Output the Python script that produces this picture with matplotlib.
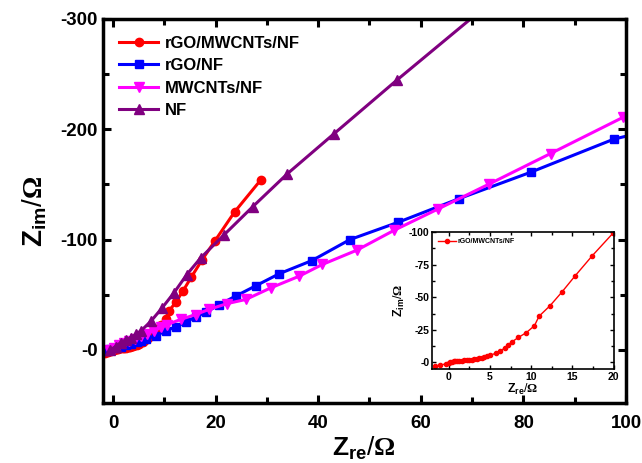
# Nyquist plot: rGO/MWCNTs/NF, rGO/NF, MWCNTs/NF, NF with inset
import matplotlib
matplotlib.use('Agg')
import matplotlib.pyplot as plt
from matplotlib.ticker import MultipleLocator

plt.rcParams['font.family'] = ['Liberation Sans', 'DejaVu Sans']
plt.rcParams['font.weight'] = 'bold'
plt.rcParams['mathtext.fontset'] = 'custom'
plt.rcParams['mathtext.bf'] = 'Liberation Sans:bold'
plt.rcParams['mathtext.rm'] = 'Liberation Serif'

# rGO/MWCNTs/NF
x_rgo_mw = [-1.6, -1.0, -0.3, 0.0, 0.2, 0.4, 0.6, 0.8, 1.0, 1.3, 1.6, 1.9, 2.2, 2.5,
            2.8, 3.1, 3.4, 3.7, 4.0, 4.3, 4.6, 5.05, 5.8, 6.2, 6.8, 7.2, 7.7, 8.45,
            9.4, 10.4, 10.95, 12.3, 13.7, 15.3, 17.4, 19.9, 23.7, 28.8]
y_rgo_mw = [2.8, 2.0, 1.0, 0.2, -0.3, -0.6, -0.8, -1.0, -1.1, -1.3, -1.4, -1.6, -1.8, -2.0,
            -2.2, -2.5, -2.8, -3.1, -3.5, -4.0, -4.6, -5.6, -7.2, -8.7, -11.0, -13.6, -15.9, -19.2,
            -22.8, -28.2, -35.4, -43.6, -53.8, -66.2, -81.8, -99.0, -125.0, -154.0]

# rGO/NF
x_rgo = [-1.4, -0.5, 0.5, 1.5, 2.6, 3.6, 4.6, 5.5, 6.4, 8.3, 10.3, 12.2, 14.2, 16.1,
         18.1, 20.7, 23.9, 27.8, 32.4, 38.8, 46.2, 55.6, 67.4, 81.4, 97.6, 110.0]
y_rgo = [1.0, -0.5, -1.5, -2.8, -4.2, -5.5, -7.0, -8.3, -9.5, -13.0, -17.0, -21.0, -25.0, -30.0,
         -34.0, -41.0, -48.7, -58.0, -69.0, -81.0, -100.0, -115.7, -137.0, -161.0, -191.0, -205.0]

# MWCNTs/NF
x_mw = [-0.8, 0.2, 1.2, 2.2, 3.2, 4.3, 5.4, 6.6, 8.0, 9.3, 10.6, 13.2, 16.1, 18.7,
        22.3, 25.9, 30.8, 36.3, 40.8, 47.5, 54.8, 63.4, 73.4, 85.3, 99.5, 110.0]
y_mw = [0.0, -2.0, -4.0, -6.0, -8.0, -10.0, -12.3, -14.8, -17.5, -20.3, -23.0, -27.6, -32.0, -36.7,
        -42.0, -45.7, -56.3, -66.8, -77.4, -90.3, -108.4, -127.8, -150.5, -178.0, -211.0, -235.0]

# NF
x_nf = [-0.5, 0.5, 1.5, 2.5, 3.5, 4.5, 5.4, 7.4, 9.6, 11.9, 14.4, 17.1, 21.7, 27.2,
        34.0, 43.1, 55.4, 71.0]
y_nf = [0.0, -3.0, -6.5, -9.0, -11.0, -14.0, -17.0, -26.0, -38.2, -51.8, -68.3, -83.4, -104.5, -129.6,
        -159.7, -196.0, -244.8, -305.0]

labels = ['rGO/MWCNTs/NF', 'rGO/NF', 'MWCNTs/NF', 'NF']

fig = plt.figure(figsize=(6.42, 4.63), dpi=100)
ax = fig.add_axes([0.160, 0.130, 0.815, 0.829])

ax.plot(x_rgo_mw, y_rgo_mw, '-o', color='#ff0000', lw=2.2, ms=6, label=labels[0])
ax.plot(x_rgo, y_rgo, '-s', color='#0000ff', lw=2.2, ms=6, label=labels[1])
ax.plot(x_mw, y_mw, '-v', color='#ff00ff', lw=2.2, ms=7, label=labels[2])
ax.plot(x_nf, y_nf, '-^', color='#800080', lw=2.2, ms=7, label=labels[3])

ax.set_xlim(-2, 100)
ax.set_ylim(48, -300)
ax.set_xticks([0, 20, 40, 60, 80, 100])
ax.set_yticks([-300, -200, -100, 0])
ax.set_yticklabels(['-300', '-200', '-100', '-0'])
ax.xaxis.set_minor_locator(MultipleLocator(10))
ax.yaxis.set_minor_locator(MultipleLocator(50))
ax.tick_params(which='both', direction='in', top=True, right=True, width=2.2, labelsize=13.5)
ax.tick_params(which='major', length=6)
ax.tick_params(which='minor', length=4)
ax.tick_params(axis='x', pad=9)
for s in ax.spines.values():
    s.set_linewidth(2.5)
ax.set_xlabel(r'$\mathbf{Z_{re}}$/$\mathrm{\Omega}$', fontsize=19, labelpad=2)
ax.set_ylabel(r'$\mathbf{Z_{im}}$/$\mathrm{\Omega}$', fontsize=20, labelpad=8)
ax.legend(loc='upper left', frameon=False, fontsize=12, handlelength=2.3,
          handletextpad=0.4, labelspacing=0.45, borderaxespad=0.6)

# inset
ins = fig.add_axes([0.673, 0.203, 0.283, 0.296])
ins.plot(x_rgo_mw, y_rgo_mw, '-o', color='#ff0000', lw=1, ms=3, label=labels[0])
ins.set_xlim(-2, 20)
ins.set_ylim(5, -100)
ins.set_xticks([0, 5, 10, 15, 20])
ins.set_yticks([-100, -75, -50, -25, 0])
ins.set_yticklabels(['-100', '-75', '-50', '-25', '-0'])
ins.xaxis.set_minor_locator(MultipleLocator(2.5))
ins.yaxis.set_minor_locator(MultipleLocator(12.5))
ins.tick_params(which='both', direction='in', top=True, right=True, width=1, labelsize=7.5, pad=2)
ins.tick_params(which='major', length=3)
ins.tick_params(which='minor', length=2)
for s in ins.spines.values():
    s.set_linewidth(1.2)
ins.set_xlabel(r'$\mathbf{Z_{re}}$/$\mathrm{\Omega}$', fontsize=9, labelpad=0)
ins.set_ylabel(r'$\mathbf{Z_{im}}$/$\mathrm{\Omega}$', fontsize=9, labelpad=1)
ins.legend(loc='upper left', frameon=False, fontsize=5, handlelength=2.5, handletextpad=0.3)

plt.savefig('out.png', dpi=100)
